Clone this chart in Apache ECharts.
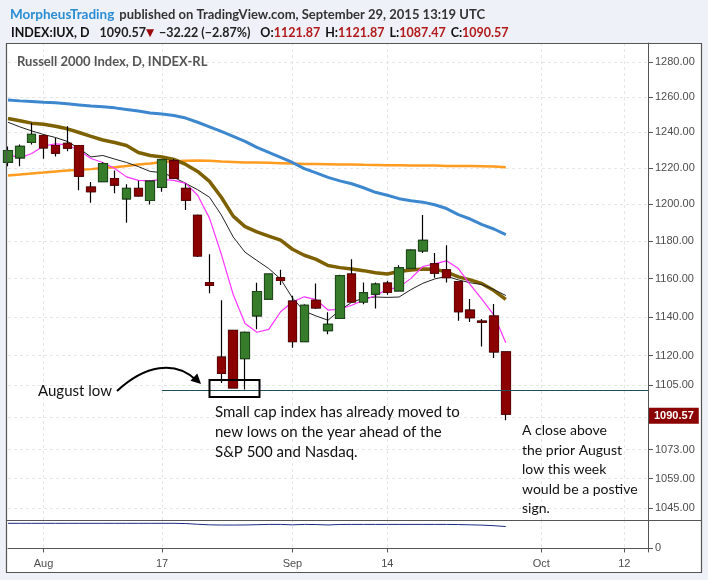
<!DOCTYPE html>
<html>
<head>
<meta charset="utf-8">
<script src="https://cdn.jsdelivr.net/npm/echarts@6/dist/echarts.min.js"></script>
<style>
  html, body { margin: 0; padding: 0; background: #eef1f7; }
  #main { width: 708px; height: 580px; }
</style>
</head>
<body>
<div id="main"></div>
<script>
// trading days shown on the x axis (last 12 are empty future slots)
var days = ['Jul 29','Jul 30','Jul 31','Aug 3','Aug 4','Aug 5','Aug 6','Aug 7','Aug 10','Aug 11','Aug 12','Aug 13','Aug 14',
  'Aug 17','Aug 18','Aug 19','Aug 20','Aug 21','Aug 24','Aug 25','Aug 26','Aug 27','Aug 28','Aug 31',
  'Sep 1','Sep 2','Sep 3','Sep 4','Sep 8','Sep 9','Sep 10','Sep 11','Sep 14','Sep 15','Sep 16','Sep 17','Sep 18',
  'Sep 21','Sep 22','Sep 23','Sep 24','Sep 25','Sep 28','Sep 29','Sep 30',
  'Oct 1','Oct 2','Oct 5','Oct 6','Oct 7','Oct 8','Oct 9','Oct 12','Oct 13','Oct 14'];

var opens = [1223.1,1225.6,1234.2,1238.1,1232.5,1233.7,1232.5,1209.3,1212.4,1214.0,1202.9,1208.6,1202.0,1209.2,1223.9,1208.6,1193.9,1157.8,1119.2,1132.9,1118.5,1140.5,1149.2,1160.4,1148.1,1127.2,1148.6,1132.8,1139.1,1162.4,1147.7,1151.8,1157.6,1153.5,1165.5,1174.7,1167.8,1164.6,1158.3,1143.4,1137.7,1140.4,1121.87];
var highs = [1232.0,1233.1,1245.2,1238.7,1236.9,1243.3,1232.5,1212.2,1223.1,1218.5,1210.9,1212.8,1212.6,1224.8,1225.0,1211.3,1194.3,1172.9,1148.6,1133.2,1132.4,1157.8,1162.6,1164.7,1151.0,1146.5,1157.4,1142.3,1162.0,1170.2,1157.9,1157.9,1158.8,1167.0,1175.6,1194.1,1173.6,1177.8,1158.5,1149.2,1138.8,1146.6,1121.87];
var lows = [1220.9,1220.9,1233.1,1225.1,1226.3,1229.3,1207.6,1200.7,1212.4,1206.0,1189.9,1204.0,1199.8,1206.8,1213.8,1196.8,1171.5,1152.3,1106.1,1103.5,1102.9,1133.5,1149.0,1156.6,1124.0,1126.8,1144.1,1131.0,1139.0,1147.2,1146.5,1144.3,1151.5,1153.3,1165.4,1173.6,1160.5,1157.9,1137.9,1137.3,1124.6,1118.8,1087.47];
var closes = [1229.7,1232.0,1238.7,1231.2,1228.2,1231.0,1215.4,1206.8,1222.4,1210.5,1208.6,1204.5,1212.6,1224.5,1214.3,1202.2,1172.0,1156.4,1111.0,1103.7,1131.9,1153.2,1162.4,1159.0,1127.2,1146.0,1144.6,1136.1,1161.5,1147.7,1152.5,1157.1,1152.8,1165.7,1175.1,1180.4,1162.9,1160.5,1142.6,1139.5,1137.2,1121.9,1090.57];

// moving averages
var ma5 = [1227.5,1225.5,1228.0,1232.2,1233.4,1232.8,1229.7,1225.2,1223.0,1219.6,1215.0,1213.1,1212.8,1213.6,1213.1,1211.4,1204.9,1192.4,1172.9,1151.6,1136.5,1132.0,1133.5,1142.6,1147.7,1150.4,1148.9,1143.5,1143.9,1146.0,1148.6,1151.1,1154.2,1155.5,1160.1,1166.4,1167.8,1169.4,1165.3,1156.8,1149.1,1140.9,1126.6];
var ma10 = [1245.6,1243.0,1240.7,1238.7,1237.0,1234.8,1230.8,1226.1,1226.9,1224.9,1223.0,1220.7,1218.0,1217.4,1214.7,1211.4,1207.9,1203.8,1194.1,1182.2,1174.0,1169.6,1165.3,1159.8,1149.8,1142.9,1140.4,1138.2,1143.4,1147.5,1149.8,1150.3,1150.1,1150.3,1154.2,1157.5,1159.8,1161.2,1159.3,1157.8,1156.8,1154.2,1151.1];
var ma20 = [1247.7,1246.5,1245.1,1244.5,1243.3,1241.9,1239.8,1237.6,1235.6,1234.2,1232.5,1228.6,1226.9,1226.1,1224.7,1221.9,1218.0,1212.5,1203.8,1193.5,1187.8,1184.9,1182.7,1180.5,1175.6,1172.4,1170.2,1166.9,1165.8,1165.1,1164.2,1163.1,1162.4,1163.7,1164.5,1165.1,1165.0,1163.4,1160.9,1159.3,1157.3,1153.7,1149.1];
var ma50 = [1258.3,1257.8,1257.4,1257.0,1256.7,1256.1,1255.5,1254.9,1254.4,1253.8,1252.9,1252.0,1250.9,1250.3,1249.4,1248.0,1245.6,1243.0,1240.4,1237.6,1234.8,1231.4,1228.6,1225.8,1223.0,1219.6,1217.2,1214.7,1212.8,1211.2,1209.0,1206.5,1204.9,1203.0,1201.9,1201.1,1199.7,1197.6,1194.3,1191.9,1188.9,1186.5,1183.5];
var ma200 = [1215.8,1216.3,1216.9,1217.4,1218.0,1218.5,1218.9,1219.3,1219.9,1220.4,1221.0,1221.9,1222.4,1223.3,1223.7,1223.9,1224.1,1223.9,1223.5,1223.3,1223.0,1223.0,1222.8,1222.6,1222.4,1222.2,1222.1,1222.0,1221.9,1221.9,1221.7,1221.6,1221.5,1221.5,1221.3,1221.3,1221.3,1221.1,1221.1,1221.1,1220.9,1220.7,1220.3];

// lower indicator pane
var indicator = [88.3,88.3,88.3,88.3,88.3,88.3,88.3,88.3,88.3,88.3,88.3,88.3,88.3,88.3,88.3,87.5,85,83,82.3,82.3,82.5,83.5,84.5,84.5,83,84.5,84,82.5,84.3,84.5,84.5,84.5,84.5,84.5,84.5,84.5,84.5,84.5,84,83,82,80,77];

// price axis ticks (log scale)
var yTicks = [1280,1260,1240,1220,1200,1180,1160,1140,1120,1105,1073,1059,1045];
var yHiddenTicks = [1089];
var yRange = [1039.2, 1291.4];

// date axis labels
var xTickDays = ['Aug 3','Aug 17','Sep 1','Sep 14','Oct 1','Oct 12'];
var xTickText = ['Aug','17','Sep','14','Oct','12'];

var augustLow = 1102.3;
var lastClose = 1090.57;

function lg(v) { return Math.log(v); }

var wickData = opens.map(function (o, i) { return [lg(o), lg(closes[i]), lg(lows[i]), lg(highs[i])]; });
var bodyData = opens.map(function (o, i) {
  var c = closes[i];
  return [lg(o), lg(c), lg(Math.min(o, c)), lg(Math.max(o, c))];
});

function isTickDay(idx, val) { return xTickDays.indexOf(val) >= 0; }

var axisFont = 'Liberation Sans';
var textFont = 'Lato';

var chart = echarts.init(document.getElementById('main'), null, { renderer: 'canvas' });

var gridSplit = { show: true, interval: isTickDay, lineStyle: { color: '#e6e6e6', type: [3, 3] } };

var option = {
  animation: false,
  backgroundColor: '#eef1f7',
  title: [{
    left: 5, top: 1,
    text: '{u|MorpheusTrading} {p|published on TradingView.com, September 29, 2015 13:19 UTC}',
    textStyle: { rich: {
      u: { fontFamily: textFont, fontWeight: 'bold', fontSize: 13.5, color: '#2a8dd4' },
      p: { fontFamily: textFont, fontSize: 13, color: '#333' }
    } }
  }, {
    left: 6, top: 19,
    text: '{b|INDEX:IUX, D}  {n|1090.57}{t|\u25BC} {n|\u221232.22 (\u22122.87%)}  {b|O:}{r|1121.87} {b|H:}{r|1121.87} {b|L:}{r|1087.47} {b|C:}{r|1090.57}',
    textStyle: { rich: {
      b: { fontFamily: textFont, fontWeight: 'bold', fontSize: 12.5, color: '#111' },
      n: { fontFamily: textFont, fontSize: 12.5, color: '#222' },
      t: { fontFamily: 'DejaVu Sans', fontSize: 10.5, color: '#9b0a0a' },
      r: { fontFamily: textFont, fontSize: 12.5, color: '#b3191b' }
    } }
  }],
  grid: [
    { left: 8, right: 60, top: 43, bottom: 60 },
    { left: 8, right: 60, top: 520, bottom: 28 }
  ],
  xAxis: [{
    type: 'category', gridIndex: 0, data: days, boundaryGap: false,
    axisLine: { show: false }, axisTick: { show: false }, axisLabel: { show: false },
    splitLine: gridSplit
  }, {
    type: 'category', gridIndex: 1, data: days, boundaryGap: false,
    axisLine: { show: true, lineStyle: { color: '#555', width: 1 } },
    axisTick: { show: true, interval: isTickDay, length: 4, lineStyle: { color: '#555' } },
    axisLabel: {
      interval: isTickDay, color: '#4d4d4d', fontFamily: axisFont, fontSize: 11, margin: 6,
      formatter: function (v) { var k = xTickDays.indexOf(v); return k >= 0 ? xTickText[k] : ''; }
    },
    splitLine: gridSplit
  }],
  yAxis: [{
    type: 'value', gridIndex: 0, position: 'right', scale: true,
    min: lg(yRange[0]), max: lg(yRange[1]),
    axisLine: { show: true, lineStyle: { color: '#555', width: 1 } },
    axisTick: { show: true, length: 5, lineStyle: { color: '#555' },
      customValues: yTicks.concat(yHiddenTicks).map(lg) },
    axisLabel: {
      customValues: yTicks.map(lg), color: '#4d4d4d', fontFamily: axisFont, fontSize: 11, margin: 7,
      formatter: function (v) { return Math.exp(v).toFixed(2); }
    },
    splitLine: { show: true, lineStyle: { color: '#e6e6e6', type: [3, 3] } }
  }, {
    type: 'value', gridIndex: 1, position: 'right', min: -12.5, max: 100,
    axisLine: { show: true, lineStyle: { color: '#555', width: 1 } },
    axisTick: { show: true, length: 5, lineStyle: { color: '#555' }, customValues: [0] },
    axisLabel: { customValues: [0], color: '#4d4d4d', fontFamily: axisFont, fontSize: 11, margin: 7 },
    splitLine: { show: false }
  }],
  series: [
    { name: 'MA200', type: 'line', data: ma200.map(lg), symbol: 'none', z: 1,
      lineStyle: { color: '#ff9c1f', width: 2.5 } },
    { name: 'MA50', type: 'line', data: ma50.map(lg), symbol: 'none', z: 1,
      lineStyle: { color: '#3d87cf', width: 3 } },
    { name: 'MA20', type: 'line', data: ma20.map(lg), symbol: 'none', z: 1,
      lineStyle: { color: '#7d6000', width: 3.5 } },
    { name: 'MA10', type: 'line', data: ma10.map(lg), symbol: 'none', z: 1,
      lineStyle: { color: '#222', width: 1 } },
    { name: 'MA5', type: 'line', data: ma5.map(lg), symbol: 'none', z: 1,
      lineStyle: { color: '#ff33ff', width: 1.2 } },
    { name: 'wick', type: 'candlestick', data: wickData, barWidth: 9, z: 3,
      itemStyle: { color: '#000', color0: '#000', borderColor: '#000', borderColor0: '#000', borderWidth: 1.2 } },
    { name: 'body', type: 'candlestick', data: bodyData, barWidth: 9, z: 4,
      itemStyle: { color: '#367c2b', color0: '#8b0000', borderColor: '#1f4d1a', borderColor0: '#6a0000', borderWidth: 1 },
      markLine: {
        symbol: 'none', silent: true,
        data: [
          [{ coord: ['Aug 17', lg(augustLow)], lineStyle: { color: '#1f4d5a', width: 1, type: 'solid' }, label: { show: false } },
           { coord: ['Oct 14', lg(augustLow)] }],
          { yAxis: lg(lastClose), lineStyle: { color: 'rgba(0,0,0,0)', width: 1 },
            label: { show: true, position: 'end', distance: 1, formatter: lastClose.toFixed(2),
              align: 'left', verticalAlign: 'middle', offset: [0, -8],
              backgroundColor: '#8b0000', color: '#fff', fontWeight: 'bold', fontFamily: axisFont,
              fontSize: 11, padding: [3, 5, 2, 5] } }
        ]
      } },
    { name: 'indicator', type: 'line', xAxisIndex: 1, yAxisIndex: 1, data: indicator, symbol: 'none',
      lineStyle: { color: '#1b2a8a', width: 1 } }
  ],
  graphic: [
    { type: 'rect', z: -10, shape: { x: 6, y: 43, width: 696, height: 530 }, style: { fill: '#fff' } },
    { type: 'rect', z: 100, shape: { x: 6.5, y: 43.5, width: 695, height: 529 },
      style: { fill: null, stroke: '#555', lineWidth: 1.2 } },
    { type: 'line', z: 100, shape: { x1: 6, y1: 520.5, x2: 702, y2: 520.5 }, style: { stroke: '#555', lineWidth: 1 } },
    { type: 'text', z: 100, style: { text: 'Russell 2000 Index, D, INDEX-RL', x: 17, y: 62, textVerticalAlign: 'middle',
      font: 'bold 13px Lato', fill: '#555' } },
    { type: 'text', z: 100, style: { text: 'August low', x: 38, y: 391, textVerticalAlign: 'middle',
      font: '15px Lato', fill: '#111' } },
    { type: 'bezierCurve', z: 100, shape: { x1: 117, y1: 391, cpx1: 145, cpy1: 365, cpx2: 175, cpy2: 360, x2: 196, y2: 380 },
      style: { stroke: '#000', lineWidth: 2, fill: null } },
    { type: 'polygon', z: 100, shape: { points: [[201, 384], [190.4, 380.7], [197.3, 373.5]] }, style: { fill: '#000' } },
    { type: 'rect', z: 100, shape: { x: 209.5, y: 380, width: 50, height: 17 },
      style: { fill: null, stroke: '#000', lineWidth: 2 } },
    { type: 'text', z: 100, style: {
      text: 'Small cap index has already moved to\nnew lows on the year ahead of the\nS&P 500 and Nasdaq.',
      x: 215, y: 402, lineHeight: 20, textVerticalAlign: 'top', font: '15px Lato', fill: '#111' } },
    { type: 'text', z: 100, style: {
      text: 'A close above\nthe prior August\nlow this week\nwould be a postive\nsign.',
      x: 522, y: 421, lineHeight: 19.5, textVerticalAlign: 'top', font: '14px Lato', fill: '#111' } }
  ]
};

chart.setOption(option);
</script>
</body>
</html>
